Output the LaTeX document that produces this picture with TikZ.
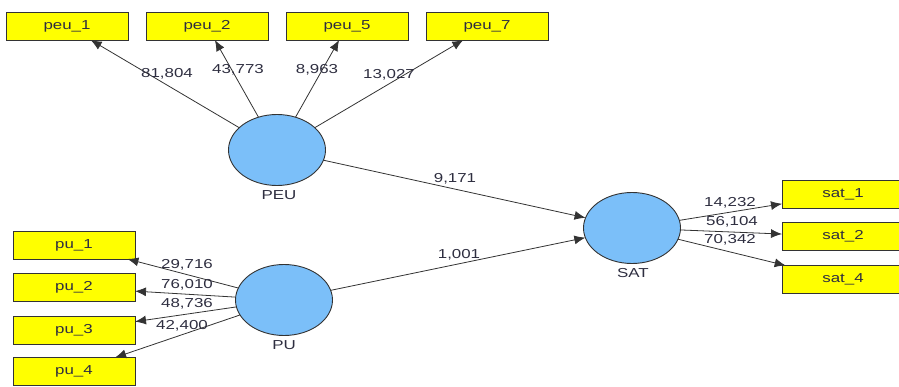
\documentclass[tikz,border=0pt]{standalone}
\usepackage{fontspec}
\setmainfont{Liberation Sans}
\newfontfamily\labfont[FakeStretch=1.3]{Liberation Sans}
\usetikzlibrary{shapes.geometric,arrows.meta}
\definecolor{boxyellow}{HTML}{FFFF00}
\definecolor{lvblue}{HTML}{7BBFF9}
\definecolor{edgegray}{HTML}{333333}
\definecolor{txtcol}{HTML}{2E2E40}
\begin{document}
\begin{tikzpicture}[x=1pt,y=-1pt,
  ind/.style={draw=edgegray,line width=0.9pt,fill=boxyellow,rectangle,minimum width=122pt,minimum height=28pt,inner sep=0pt,outer sep=0pt,font=\labfont\fontsize{13}{15}\selectfont,text=txtcol},
  lv/.style={draw=edgegray,line width=0.9pt,fill=lvblue,ellipse,minimum width=97pt,minimum height=71pt,inner sep=0pt,outer sep=0pt},
  lbl/.style={font=\labfont\fontsize{13}{15}\selectfont,text=txtcol,inner sep=0pt},
  conn/.style={draw=edgegray,line width=0.8pt,-{Latex[length=11pt,width=9pt]}}]
\useasboundingbox (0,0) rectangle (899,387);
\clip (0,0) rectangle (899,387);
% indicator boxes
\node[ind] (peu1) at (67,26) {peu\_1};
\node[ind] (peu2) at (207,26) {peu\_2};
\node[ind] (peu5) at (347,26) {peu\_5};
\node[ind] (peu7) at (487,26) {peu\_7};
\node[ind] (pu1) at (74,245) {pu\_1};
\node[ind] (pu2) at (74,287.5) {pu\_2};
\node[ind] (pu3) at (74,330.5) {pu\_3};
\node[ind] (pu4) at (74,371.5) {pu\_4};
\node[ind] (sat1) at (843,194) {sat\_1};
\node[ind] (sat2) at (843,236.5) {sat\_2};
\node[ind] (sat4) at (843,279.5) {sat\_4};
% latent variables
\node[lv] (PEU) at (277,150) {};
\node[lv] (PU) at (284,300) {};
\node[lv] (SAT) at (632,228) {};
\node[lbl] (tPEU) at (279,195) {PEU};
\node[lbl] (tPU) at (284,345) {PU};
\node[lbl] (tSAT) at (633,273) {SAT};
% connectors
\draw[conn] (PEU) -- (peu1);
\draw[conn] (PEU) -- (peu2);
\draw[conn] (PEU) -- (peu5);
\draw[conn] (PEU) -- (peu7);
\draw[conn] (PU) -- (pu1);
\draw[conn] (PU) -- (pu2);
\draw[conn] (PU) -- (pu3);
\draw[conn] (PU) -- (pu4);
\draw[conn] (SAT) -- (sat1);
\draw[conn] (SAT) -- (sat2);
\draw[conn] (SAT) -- (sat4);
\draw[conn] (PEU) -- (SAT);
\draw[conn] (PU) -- (SAT);
% labels
\node[lbl] (l1) at (167,74) {81,804};
\node[lbl] (l2) at (238,70) {43,773};
\node[lbl] (l5) at (317,70) {8,963};
\node[lbl] (l7) at (389,75) {13,027};
\node[lbl] (lp1) at (187,265) {29,716};
\node[lbl] (lp2) at (187,285) {76,010};
\node[lbl] (lp3) at (187,304) {48,736};
\node[lbl] (lp4) at (182,326) {42,400};
\node[lbl] (ls1) at (730,203) {14,232};
\node[lbl] (ls2) at (732,222) {56,104};
\node[lbl] (ls4) at (730,240) {70,342};
\node[lbl] (lpeu) at (455,179) {9,171};
\node[lbl] (lpu) at (459,255) {1,001};
\end{tikzpicture}
\end{document}
